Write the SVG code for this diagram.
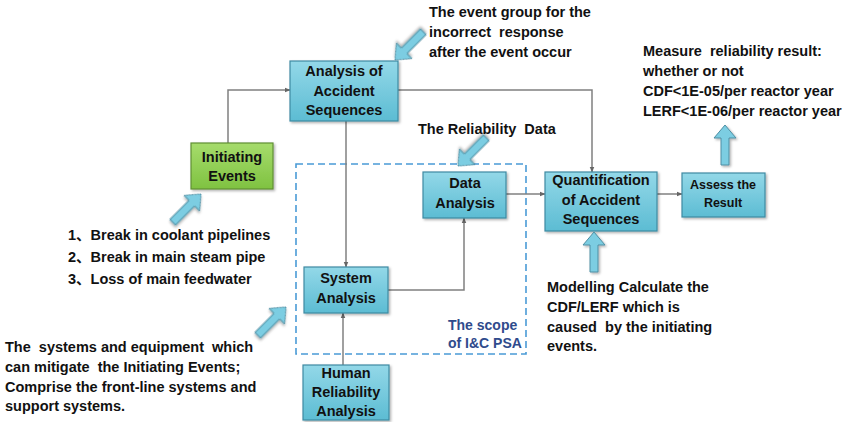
<svg xmlns="http://www.w3.org/2000/svg" width="844" height="422" viewBox="0 0 844 422">
  <defs>
    <linearGradient id="gBlue" x1="0" y1="0" x2="0" y2="1">
      <stop offset="0" stop-color="#93d8e8"/>
      <stop offset="1" stop-color="#5cbcd3"/>
    </linearGradient>
    <linearGradient id="gGreen" x1="0" y1="0" x2="0" y2="1">
      <stop offset="0" stop-color="#a6dc6c"/>
      <stop offset="1" stop-color="#7fc241"/>
    </linearGradient>
    <filter id="shadow" x="-10%" y="-10%" width="130%" height="140%">
      <feDropShadow dx="1.5" dy="1.5" stdDeviation="1" flood-color="#000" flood-opacity="0.3"/>
    </filter>
    <marker id="arrow" viewBox="0 0 10 10" refX="9" refY="5" markerWidth="6" markerHeight="6" orient="auto" markerUnits="userSpaceOnUse">
      <path d="M0,1 L10,5 L0,9 Z" fill="#666"/>
    </marker>
    <!-- block arrow, tip at origin, pointing up -->
    <path id="blockArrow" d="M0,0 L11,13 L4,13 L4,40 L-4,40 L-4,13 L-11,13 Z"/>
  </defs>
  <style>
    .node rect { fill: url(#gBlue); stroke: #3f8aa2; stroke-width: 1.2; filter: url(#shadow); }
    .node.green rect { fill: url(#gGreen); stroke: #5f8f35; }
    .node text { font-family: "Liberation Sans", Arial, sans-serif; font-weight: bold; font-size: 14.5px; fill: #111; text-anchor: middle; }
    .node.small text { font-size: 12.5px; }
    .conn { fill: none; stroke: #808080; stroke-width: 1.5; marker-end: url(#arrow); }
    .note { font-family: "Liberation Sans", "Noto Sans CJK SC", Arial, sans-serif; font-weight: bold; font-size: 14.5px; fill: #111; }
    .scope { font-family: "Liberation Sans", Arial, sans-serif; font-weight: bold; font-size: 14px; fill: #2f4b8c; }
    .barrow use { fill: #7ccde2; stroke: #4e8ea3; stroke-width: 1; filter: url(#shadow); }
  </style>
  <rect width="844" height="422" fill="#fff"/>

  <!-- scope boundary of the I&C PSA -->
  <g id="scope">
    <rect x="296" y="164" width="230" height="190" fill="none" stroke="#4a9bd6" stroke-width="1.6" stroke-dasharray="7,4"/>
    <text class="scope" x="448" y="330">The scope</text>
    <text class="scope" x="448" y="348">of I&amp;C PSA</text>
  </g>

  <!-- connectors -->
  <g id="connectors">
    <path class="conn" d="M228,143 L228,90 L290,90"/>
    <path class="conn" d="M346,121 L346,267"/>
    <path class="conn" d="M398,90 L592,90 L592,172"/>
    <path class="conn" d="M388,290 L464,290 L464,218"/>
    <path class="conn" d="M506,194 L545,194"/>
    <path class="conn" d="M657,194 L682,194"/>
    <path class="conn" d="M343,365 L343,313"/>
  </g>

  <!-- nodes -->
  <g id="analysis-of-accident-sequences" class="node">
    <rect x="290" y="61" width="108" height="60"/>
    <text x="344" y="76">Analysis of</text>
    <text x="344" y="96">Accident</text>
    <text x="344" y="115">Sequences</text>
  </g>
  <g id="initiating-events" class="node green">
    <rect x="191" y="143" width="82" height="46"/>
    <text x="232" y="162">Initiating</text>
    <text x="232" y="181">Events</text>
  </g>
  <g id="data-analysis" class="node">
    <rect x="423" y="172" width="83" height="46"/>
    <text x="465" y="188">Data</text>
    <text x="465" y="208">Analysis</text>
  </g>
  <g id="system-analysis" class="node">
    <rect x="304" y="267" width="84" height="46"/>
    <text x="346" y="283">System</text>
    <text x="346" y="303">Analysis</text>
  </g>
  <g id="quantification" class="node">
    <rect x="545" y="172" width="112" height="59"/>
    <text x="601" y="185">Quantification</text>
    <text x="601" y="205">of Accident</text>
    <text x="601" y="224">Sequences</text>
  </g>
  <g id="assess-result" class="node small">
    <rect x="682" y="173" width="83" height="44"/>
    <text x="723" y="189">Assess the</text>
    <text x="723" y="207">Result</text>
  </g>
  <g id="human-reliability" class="node">
    <rect x="303" y="365" width="86" height="55"/>
    <text x="346" y="378">Human</text>
    <text x="346" y="397">Reliability</text>
    <text x="346" y="416">Analysis</text>
  </g>

  <!-- annotation arrows -->
  <g id="annotation-arrows" class="barrow">
    <use href="#blockArrow" transform="translate(395,60) rotate(-135)"/>
    <use href="#blockArrow" transform="translate(458,166) rotate(-135)"/>
    <use href="#blockArrow" transform="translate(201,194) rotate(45)"/>
    <use href="#blockArrow" transform="translate(286,307) rotate(45)"/>
    <use href="#blockArrow" transform="translate(594,232)"/>
    <use href="#blockArrow" transform="translate(725,125)"/>
  </g>

  <!-- annotations -->
  <g id="notes">
    <text class="note" x="429" y="17">The event group for the</text>
    <text class="note" x="429" y="37" xml:space="preserve">incorrect  response</text>
    <text class="note" x="429" y="57">after the event occur</text>

    <text class="note" x="643" y="56" xml:space="preserve">Measure  reliability result:</text>
    <text class="note" x="643" y="76">whether or not</text>
    <text class="note" x="643" y="96">CDF&lt;1E-05/per reactor year</text>
    <text class="note" x="643" y="116">LERF&lt;1E-06/per reactor year</text>

    <text class="note" x="418" y="134" xml:space="preserve">The Reliability  Data</text>

    <text class="note" x="68" y="240">1、Break in coolant pipelines</text>
    <text class="note" x="68" y="262">2、Break in main steam pipe</text>
    <text class="note" x="68" y="284">3、Loss of main feedwater</text>

    <text class="note" x="5" y="352" xml:space="preserve">The  systems and equipment  which</text>
    <text class="note" x="5" y="372" xml:space="preserve">can mitigate  the Initiating Events;</text>
    <text class="note" x="5" y="392">Comprise the front-line systems and</text>
    <text class="note" x="5" y="411">support systems.</text>

    <text class="note" x="547" y="292">Modelling Calculate the</text>
    <text class="note" x="547" y="312">CDF/LERF which is</text>
    <text class="note" x="547" y="332" xml:space="preserve">caused  by the initiating</text>
    <text class="note" x="547" y="351">events.</text>
  </g>
</svg>
